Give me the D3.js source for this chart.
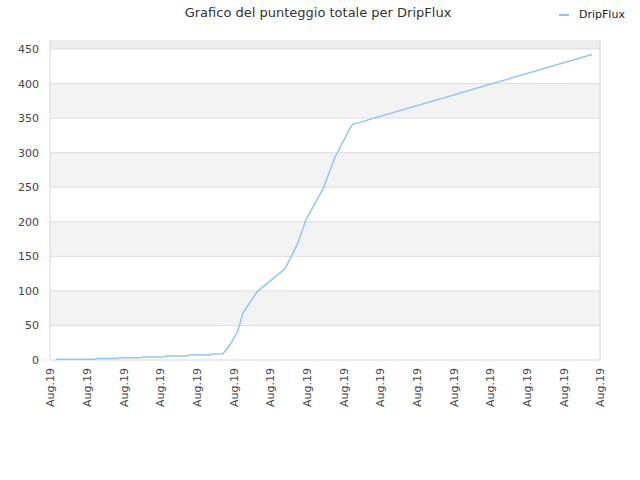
<!DOCTYPE html>
<html>
<head>
<meta charset="utf-8">
<script src="https://cdn.jsdelivr.net/npm/d3@7"></script>
<style>
  body { margin: 0; background: #fff; }
  text { font-family: "DejaVu Sans", sans-serif; }
</style>
</head>
<body>
<div id="chart"></div>
<script>
const width = 640;
const height = 480;
const margin = { top: 40, right: 40, bottom: 120, left: 50 };

const seriesName = "DripFlux";
// x is position along the time axis, in tick units (one tick per label)
const xValues = [0.16, 1.23, 1.26, 1.85, 1.88, 2.48, 2.51, 3.12, 3.15, 3.75, 3.78, 4.38, 4.41, 4.72,
  4.91, 5.13, 5.26, 5.65, 6.41, 6.76, 6.98, 7.45, 7.77, 8.21, 8.26, 14.78];
const scores = [1, 1, 2, 2, 3.3, 3.3, 4.5, 4.5, 5.8, 5.8, 7.2, 7.2, 8.8, 9,
  22, 43, 68, 99, 132, 169, 203, 248, 293, 338, 341, 442];
const xTickLabels = d3.range(16).map(() => "Aug.19");
const yTicks = [0, 50, 100, 150, 200, 250, 300, 350, 400, 450];

const plotW = width - margin.left - margin.right;
const plotH = height - margin.top - margin.bottom;

const xScale = d3.scaleLinear()
  .domain([0, xTickLabels.length - 1])
  .range([margin.left, margin.left + plotW]);

const yScale = d3.scaleLinear()
  .domain([0, 463])
  .range([margin.top + plotH, margin.top]);

const svg = d3.select("#chart")
  .append("svg")
  .attr("width", width)
  .attr("height", height);

// alternating bands
const bands = yTicks.map((t, i) => [t, i + 1 < yTicks.length ? yTicks[i + 1] : yScale.domain()[1]]);
svg.append("g")
  .selectAll("rect")
  .data(bands)
  .enter()
  .append("rect")
  .attr("x", margin.left)
  .attr("width", plotW)
  .attr("y", d => yScale(d[1]))
  .attr("height", d => yScale(d[0]) - yScale(d[1]))
  .attr("fill", (d, i) => i === bands.length - 1 ? "#ededed" : (i % 2 ? "#f3f3f3" : "#fff"));

// gridlines
svg.append("g")
  .selectAll("line")
  .data(yTicks.slice(1))
  .enter()
  .append("line")
  .attr("x1", margin.left)
  .attr("x2", margin.left + plotW)
  .attr("y1", d => yScale(d))
  .attr("y2", d => yScale(d))
  .attr("stroke", "#dedede")
  .attr("stroke-width", 1);

// plot frame (left, bottom, right)
svg.append("path")
  .attr("d", `M${margin.left},${margin.top}V${margin.top + plotH}H${margin.left + plotW}V${margin.top}`)
  .attr("fill", "none")
  .attr("stroke", "#d6d6d6")
  .attr("stroke-width", 1);

const yAxis = d3.axisLeft(yScale)
  .tickValues(yTicks)
  .tickSize(0)
  .tickPadding(11);

svg.append("g")
  .attr("transform", `translate(${margin.left},0)`)
  .call(yAxis)
  .call(g => g.select(".domain").remove())
  .selectAll("text")
  .style("font-size", "11px")
  .attr("fill", "#444");

const xAxis = d3.axisBottom(xScale)
  .tickValues(d3.range(xTickLabels.length))
  .tickFormat(i => xTickLabels[i])
  .tickSize(0);

svg.append("g")
  .attr("transform", `translate(0,${margin.top + plotH})`)
  .call(xAxis)
  .call(g => g.select(".domain").remove())
  .selectAll("text")
  .style("font-size", "11px")
  .attr("fill", "#444")
  .attr("text-anchor", "end")
  .attr("dy", "0.35em")
  .attr("transform", "translate(0,8) rotate(-90)")
  .attr("y", 0)
  .attr("x", 0);

const line = d3.line()
  .x((d, i) => xScale(xValues[i]))
  .y(d => yScale(d));

svg.append("path")
  .datum(scores)
  .attr("fill", "none")
  .attr("stroke", "#92c5f5")
  .attr("stroke-width", 1.5)
  .attr("d", line);

// title
svg.append("text")
  .attr("x", 318)
  .attr("y", 17)
  .attr("text-anchor", "middle")
  .style("font-size", "13px")
  .attr("fill", "#333")
  .text("Grafico del punteggio totale per " + seriesName);

// legend
svg.append("line")
  .attr("x1", 559)
  .attr("x2", 569)
  .attr("y1", 15)
  .attr("y2", 15)
  .attr("stroke", "#92c5f5")
  .attr("stroke-width", 2);

svg.append("text")
  .attr("x", 579)
  .attr("y", 18)
  .style("font-size", "11px")
  .attr("fill", "#222")
  .text(seriesName);
</script>
</body>
</html>
